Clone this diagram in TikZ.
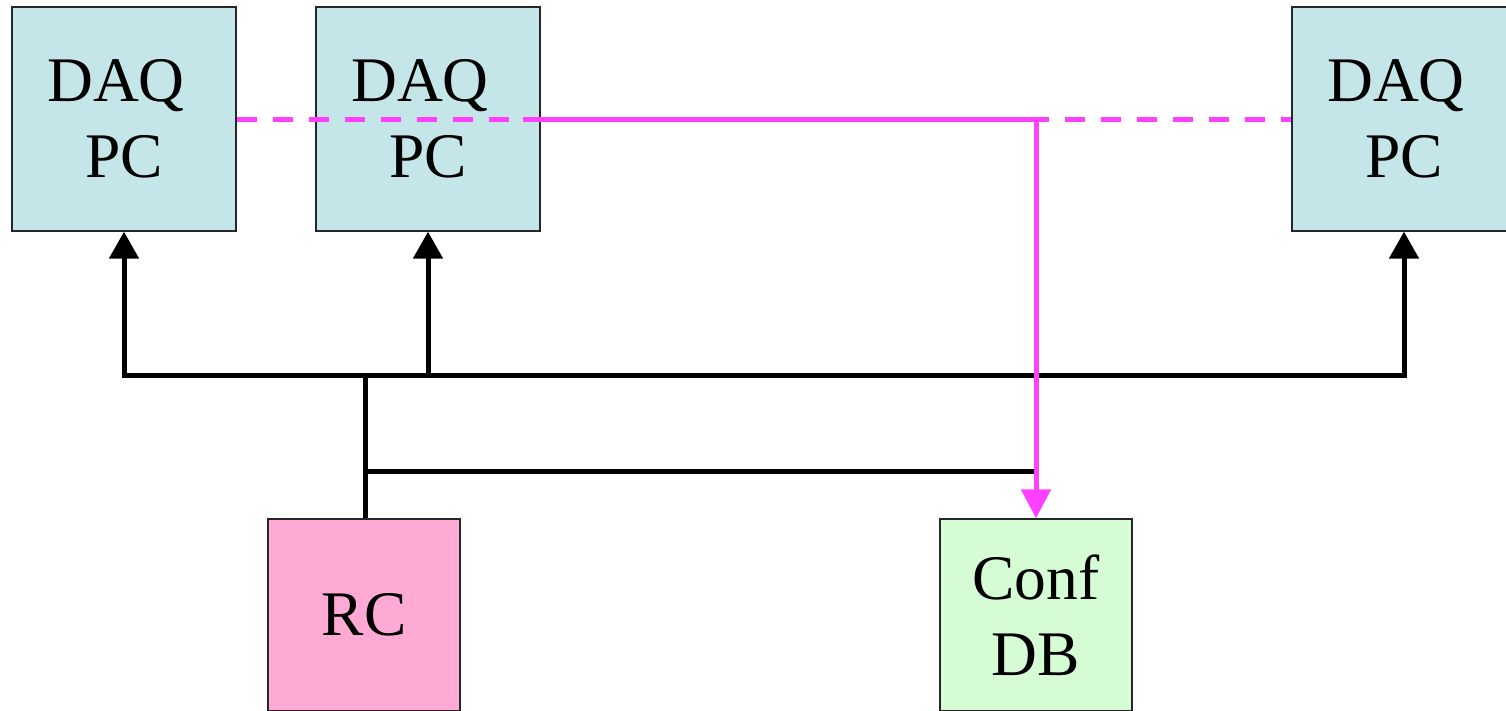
\documentclass[tikz,border=0pt]{standalone}
\usepackage{fontspec}
\setmainfont{Liberation Serif}
\usetikzlibrary{arrows.meta}
\definecolor{daqfill}{HTML}{C5E6E8}
\definecolor{rcfill}{HTML}{FFAAD4}
\definecolor{dbfill}{HTML}{D5FCD5}
\definecolor{mag}{HTML}{FF40FF}
\tikzset{
  box/.style={draw=black!85, line width=1.3pt, rectangle, inner sep=0pt, align=center,
    font=\fontsize{63.5}{76}\selectfont},
  daqbox/.style={box, fill=daqfill, minimum width=224pt, minimum height=224pt},
  smallbox/.style={box, minimum width=192pt, minimum height=192pt},
  wire/.style={line width=5pt, black},
  uparrow/.style={wire, -{Triangle[length=27pt,width=29pt]}},
  ctrl/.style={line width=5pt, mag},
  ctrldash/.style={line width=5pt, mag, dash pattern=on 20pt off 16pt},
}
\newcommand{\daqtext}{DAQ\hspace*{0.25em}\\PC}
\begin{document}
\begin{tikzpicture}[x=1pt,y=-1pt]
\useasboundingbox (0,0) rectangle (1506,710);
\clip (0,0) rectangle (1506,710);
\node[daqbox] (daq1) at (124,119) {\daqtext};
\node[daqbox] (daq2) at (428,119) {\daqtext};
\node[daqbox] (daq3) at (1404,119) {\daqtext};
\node[smallbox, fill=rcfill] (rc) at (364,615) {RC};
\node[smallbox, fill=dbfill] (db) at (1036,615) {Conf\\DB};
\coordinate (j1) at (365,375);
\coordinate (j2) at (365,471);
\coordinate (j3) at (1036,471);
\coordinate (m1) at (523,119);
\coordinate (m2) at (1036,119);
% black control bus
\draw[wire] (rc.north -| j1) -- (j1);
\draw[uparrow] (j1) -| (daq1.south);
\draw[uparrow] (j1) -| (daq2.south);
\draw[uparrow] (j1) -| (daq3.south);
\draw[wire] (j2) -- (j3);
% magenta data path
\draw[ctrldash] (daq1.east) -- (daq3.west);
\draw[ctrl, -{Triangle[length=29pt,width=29pt]}] (m1) -- (m2) -- (db.north);
\end{tikzpicture}
\end{document}
